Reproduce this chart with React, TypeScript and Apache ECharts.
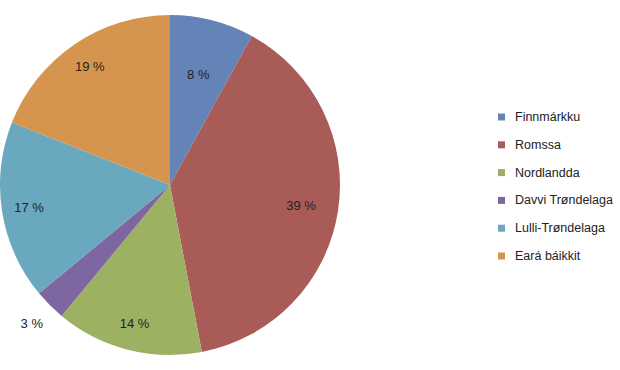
import React, { useEffect, useRef } from "react";
import * as echarts from "echarts";

const categories = ["Finnmárkku", "Romssa", "Nordlandda", "Davvi Trøndelaga", "Lulli-Trøndelaga", "Eará báikkit"];
const values = [8, 39, 14, 3, 17, 19];
const colors = ["#6484b7", "#a85b57", "#9cb262", "#7e67a1", "#6aa8c0", "#d6954f"];

const CX = 170;
const CY = 185;
const R = 170;

export default function App() {
  const ref = useRef<HTMLDivElement>(null);
  useEffect(() => {
    if (!ref.current) return;
    const chart = echarts.init(ref.current, null, { renderer: "svg" });
    const total = values.reduce((a, b) => a + b, 0);
    chart.setOption({
      animation: false,
      backgroundColor: "#ffffff",
      color: colors,
      textStyle: { fontFamily: "Liberation Sans, Arial, sans-serif" },
      legend: {
        orient: "vertical",
        left: 493,
        top: 105,
        itemWidth: 7,
        itemHeight: 7,
        itemGap: 13.8,
        icon: "rect",
        data: categories,
        textStyle: { fontSize: 12.5, color: "#222", lineHeight: 14, padding: [0, 0, 0, 5] },
      },
      series: [
        {
          type: "pie",
          center: [CX, CY],
          radius: [0, R],
          startAngle: 90,
          clockwise: true,
          silent: true,
          data: categories.map((name, i) => ({ name, value: values[i] })),
          label: {
            show: true,
            position: "inside",
            formatter: "{c} %",
            fontSize: 13,
            color: "#222",
            fontFamily: "Liberation Sans, Arial, sans-serif",
          },
          labelLine: { show: false },
          labelLayout: (params: any) => {
            const lr = params.labelRect;
            const lx = lr.x + lr.width / 2;
            const ly = lr.y + lr.height / 2;
            const dx = lx - CX;
            const dy = ly - CY;
            const d = Math.sqrt(dx * dx + dy * dy) || 1;
            const share = values[params.dataIndex] / total;
            let f = 0.84;
            if (share < 0.05) f = 1.15;
            else if (share < 0.1) f = 0.67;
            else if (share > 0.3) f = 0.78;
            const target = R * f;
            return {
              x: CX + (dx / d) * target,
              y: CY + (dy / d) * target,
              align: "center",
              verticalAlign: "middle",
            };
          },
        },
      ],
    });
    return () => chart.dispose();
  }, []);
  return <div ref={ref} style={{ position: "fixed", left: 0, top: 0, width: 620, height: 370 }} />;
}
